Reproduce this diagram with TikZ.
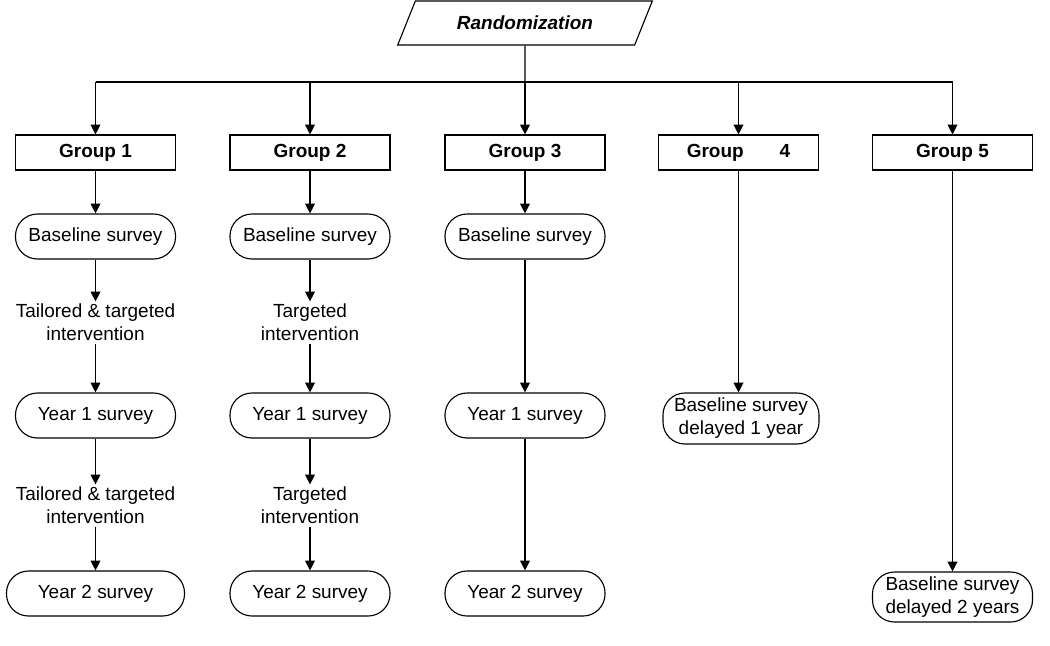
\documentclass[tikz,border=0pt]{standalone}
\usepackage{fontspec}
\setmainfont{Liberation Sans}
\usepackage{tikz}
\usetikzlibrary{shapes.misc, shapes.geometric, arrows.meta}
\newcommand{\diagfont}{\fontsize{13.5}{16.3}\selectfont}
\tikzstyle{rando} = [trapezium, trapezium left angle=63.4, trapezium right angle=116.6, trapezium stretches=true, minimum width=6.375cm, minimum height=1.1cm, text centered, draw=black, font=\diagfont\bfseries\itshape]
\tikzstyle{group} = [rectangle, minimum width=4cm, minimum height=0.875cm, text centered, draw=black, font=\diagfont\bfseries]
\tikzstyle{survey} = [rectangle, rounded corners=0.55cm, minimum width=4cm, minimum height=1.125cm, inner xsep=0pt, align=center, draw=black]
\tikzstyle{interv} = [align=center, inner sep=1.5pt]
\tikzstyle{arrow} = [->, >={Triangle[length=7pt,width=7pt]}]

\begin{document}
\begin{tikzpicture}[x=0.025cm, y=-0.025cm, line width=0.8pt, font=\diagfont]
\useasboundingbox (0,0) rectangle (1050,645);

\node (rand) [rando] at (525,23) {Randomization};
\coordinate (j1) at (95.5,82);
\coordinate (j2) at (310,82);
\coordinate (j3) at (525,82);
\coordinate (j4) at (738.5,82);
\coordinate (j5) at (952.5,82);
\draw (rand) -- (j3);
\draw (j1) -- (j5);

\node (g1) [group] at (95.5,152.5) {Group 1};
\node (g2) [group] at (310,152.5) {Group 2};
\node (g3) [group] at (525,152.5) {Group 3};
\node (g4) [group] at (738.5,152.5) {Group\hspace{0.9cm}4};
\node (g5) [group] at (952.5,152.5) {Group 5};
\foreach \i in {1,...,5}
  \draw [arrow] (j\i) -- (g\i);

% group 1
\node (b1) [survey] at (95.5,236.5) {Baseline survey};
\node (t1a) [interv] at (95.5,322.5) {Tailored \& targeted\\intervention};
\node (y1a) [survey] at (95.5,415.5) {Year 1 survey};
\node (t1b) [interv] at (95.5,505.5) {Tailored \& targeted\\intervention};
\node (y1b) [survey, minimum width=4.45cm] at (95.5,593.5) {Year 2 survey};
\draw [arrow] (g1) -- (b1);
\draw [arrow] (b1) -- (t1a);
\draw [arrow] (t1a) -- (y1a);
\draw [arrow] (y1a) -- (t1b);
\draw [arrow] (t1b) -- (y1b);

% group 2
\node (b2) [survey] at (310,236.5) {Baseline survey};
\node (t2a) [interv] at (310,322.5) {Targeted\\intervention};
\node (y2a) [survey] at (310,415.5) {Year 1 survey};
\node (t2b) [interv] at (310,505.5) {Targeted\\intervention};
\node (y2b) [survey] at (310,593.5) {Year 2 survey};
\draw [arrow] (g2) -- (b2);
\draw [arrow] (b2) -- (t2a);
\draw [arrow] (t2a) -- (y2a);
\draw [arrow] (y2a) -- (t2b);
\draw [arrow] (t2b) -- (y2b);

% group 3
\node (b3) [survey] at (525,236.5) {Baseline survey};
\node (y3a) [survey] at (525,415.5) {Year 1 survey};
\node (y3b) [survey] at (525,593.5) {Year 2 survey};
\draw [arrow] (g3) -- (b3);
\draw [arrow] (b3) -- (y3a);
\draw [arrow] (y3a) -- (y3b);

% groups 4 and 5
\node (d4) [survey, minimum width=3.9cm, minimum height=1.275cm] at (741,418.5) {Baseline survey\\delayed 1 year};
\node (d5) [survey, minimum height=1.25cm] at (952.5,597) {Baseline survey\\delayed 2 years};
\draw [arrow] (g4.south) -- (g4.south |- d4.north);
\draw [arrow] (g5) -- (d5);

\end{tikzpicture}
\end{document}
